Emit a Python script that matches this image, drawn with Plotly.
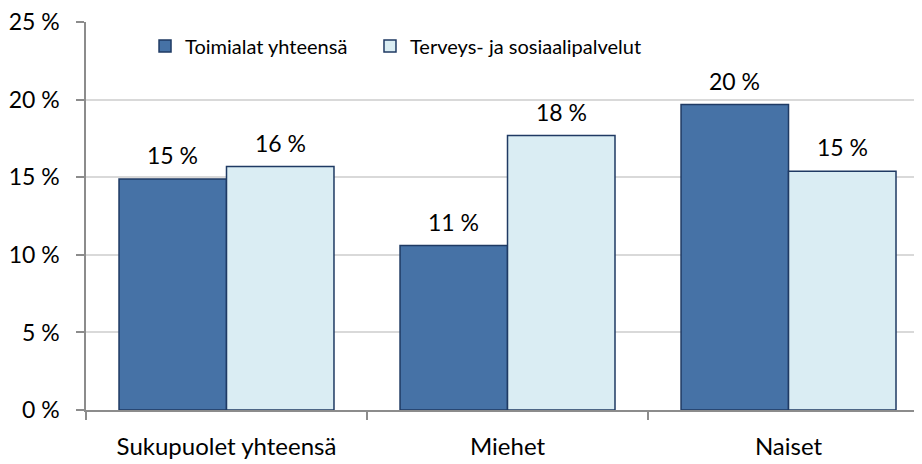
import plotly.graph_objects as go

categories = ["Sukupuolet yhteensä", "Miehet", "Naiset"]
series_names = ["Toimialat yhteensä", "Terveys- ja sosiaalipalvelut"]
toimialat = [14.9, 10.6, 19.7]
terveys = [15.7, 17.7, 15.4]
y_ticks = [0, 5, 10, 15, 20, 25]
y_tick_labels = [f"{t} %" for t in y_ticks]

FONT = "Lato, Carlito, Calibri, sans-serif"
EDGE = "#1F3A63"
AX = "#8C8C8C"
BAR_PX = 107.5  # bar width in pixels, used to offset labels

def label(v):
    return f"{round(v)} %"

fig = go.Figure()
fig.add_trace(go.Bar(
    x=categories, y=toimialat, name=series_names[0], legend="legend",
    marker=dict(color="#4672A6", line=dict(color=EDGE, width=1.5)),
))
fig.add_trace(go.Bar(
    x=categories, y=terveys, name=series_names[1], legend="legend2",
    marker=dict(color="#DAEDF3", line=dict(color=EDGE, width=1.5)),
))

annotations = []
for series, shift in ((toimialat, -BAR_PX / 2), (terveys, BAR_PX / 2)):
    for cat, v in zip(categories, series):
        annotations.append(dict(
            x=cat, y=v, xref="x", yref="y", text=label(v), showarrow=False,
            xshift=shift, yshift=8, yanchor="bottom", xanchor="center",
            font=dict(size=23, family=FONT, color="#000000"),
        ))

legend_common = dict(
    orientation="h", y=0.938, xanchor="left", yanchor="middle",
    bgcolor="rgba(0,0,0,0)", font=dict(size=20, family=FONT, color="#000000"),
    itemclick=False,
)

fig.update_layout(
    width=922, height=464,
    margin=dict(l=78, r=8, t=14, b=62, autoexpand=False),
    paper_bgcolor="white", plot_bgcolor="white",
    barmode="group", bargap=0.235, bargroupgap=0,
    font=dict(family=FONT, size=23, color="#000000"),
    showlegend=True,
    legend=dict(x=0.0706, **legend_common),
    legend2=dict(x=0.3397, **legend_common),
    annotations=annotations,
)
fig.update_xaxes(
    range=[-0.5, 2.475], showline=True, linecolor=AX, linewidth=1.5,
    ticks="outside", tickson="boundaries", ticklen=8, tickcolor=AX,
    tickwidth=1.5, showgrid=False, tickfont=dict(size=24, family=FONT),
    ticklabelstandoff=14, automargin=False,
)
fig.update_yaxes(
    range=[0, 25.02], tickvals=y_ticks, ticktext=y_tick_labels,
    showline=True, linecolor=AX, linewidth=1.5,
    ticks="outside", ticklen=8, tickcolor=AX, tickwidth=1.5,
    showgrid=True, gridcolor="#D9D9D9", gridwidth=1.5, zeroline=False,
    tickfont=dict(size=23, family=FONT), ticklabelstandoff=12, automargin=False,
    ticklabeloverflow="allow",
)

fig.write_html("out.html")
